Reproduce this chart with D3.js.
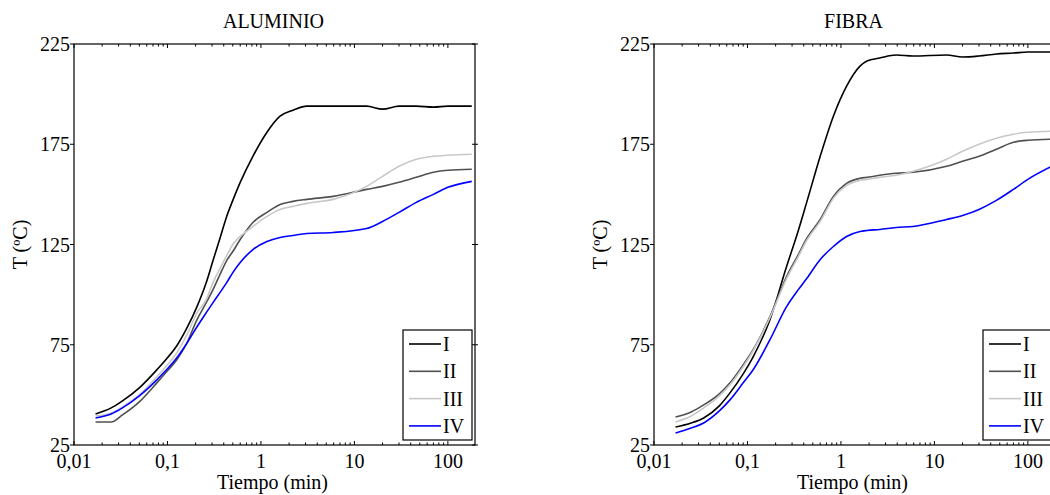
<!DOCTYPE html>
<html>
<head>
<meta charset="utf-8">
<script src="https://cdn.jsdelivr.net/npm/d3@7"></script>
<style>
  body { margin: 0; background: #fff; }
  svg { display: block; }
  text { font-family: "Liberation Serif", "Times New Roman", serif; fill: #000; }
</style>
</head>
<body>
<div id="chart"></div>
<script>
// series names + colours
const seriesNames = ["I", "II", "III", "IV"];
const seriesColors = ["#000000", "#505050", "#c8c8c8", "#0000ff"];

const xTickValues = [0.01, 0.1, 1, 10, 100];
const xTickLabels = ["0,01", "0,1", "1", "10", "100"];
const yTickValues = [25, 75, 125, 175, 225];

// ALUMINIO (time in min, temperature in ºC)
const timeAlu = [0.017, 0.025, 0.033, 0.05, 0.077, 0.1, 0.126, 0.16, 0.207, 0.26, 0.307, 0.364, 0.43, 0.5, 0.6, 0.82, 1.16, 1.6, 2.2, 3.1, 5.9, 13.5, 20, 30, 46, 70, 100, 180];
const aluI   = [40.5, 43.5, 47, 53.5, 62.5, 68.5, 74.5, 83, 94, 106, 117, 128, 139, 147, 156, 169, 181, 189, 192, 194, 194, 194, 192.5, 194, 194, 193.5, 194, 194];
const aluII  = [36.5, 36.5, 40, 46.5, 56, 62, 67.5, 75.5, 87.5, 96, 102.5, 110, 117, 121.5, 127.5, 136, 141, 145, 146.5, 147.5, 149, 152.5, 154, 156, 158.5, 161, 162, 162.5];
const aluIII = [39.5, 41, 44, 50, 59, 65, 71, 79.5, 91, 97.5, 106, 113, 119.5, 125, 129, 134, 139, 142.5, 144, 145.5, 147.5, 154, 159, 164, 167.5, 169, 169.5, 170];
const aluIV  = [38.5, 40.5, 43.5, 49.5, 57.5, 63, 68.5, 75.5, 84, 91, 96, 101, 106, 111, 116, 122.5, 126.5, 128.5, 129.5, 130.5, 131, 133, 136.5, 141, 146, 150, 153.5, 156.5];

// FIBRA
const timeFib = [0.017, 0.025, 0.034, 0.05, 0.065, 0.09, 0.115, 0.174, 0.262, 0.35, 0.43, 0.6, 0.83, 1.15, 1.6, 1.9, 2.6, 3.9, 5.9, 13.5, 20, 30, 46, 70, 100, 180];
const fibI   = [34, 36, 38.5, 44.5, 51, 60.5, 69, 87.5, 114, 132, 146, 169, 189, 204, 214, 216.5, 218, 219.5, 219, 219.5, 218.5, 219, 220, 220.5, 221, 221];
const fibII  = [39, 41.5, 45, 50.5, 56, 65, 72.5, 89, 109, 120, 128, 137.5, 149, 155.5, 158, 158.5, 159.5, 160.5, 161, 164, 166.5, 169, 172.5, 176, 177, 177.5];
const fibIII = [36.5, 39.5, 43.5, 49.5, 55, 64, 72, 88.5, 108, 119, 127, 136.5, 148, 154.5, 157, 157.5, 158.5, 159.5, 161.5, 167.5, 171.5, 175, 178, 180, 181, 181.5];
const fibIV  = [31, 33.5, 36, 42, 47.5, 56, 62.5, 77.5, 94, 102.5, 108, 117.5, 124, 129, 131.5, 132, 132.5, 133.5, 134, 137.5, 139.5, 142.5, 147, 152.5, 157.5, 164];

const width = 1050, height = 495;

let svg = d3.select("#chart").append("svg")
    .attr("width", width)
    .attr("height", height);

function drawPanel(left, title, time, series) {
    let top = 44, bottom = 445, right = left + 401;

    let x = d3.scaleLog().domain([0.01, 195]).range([left, right]);
    let y = d3.scaleLinear().domain([25, 225]).range([bottom, top]);

    let g = svg.append("g");

    // minor/major ticks on top & bottom, pointing in
    let minors = [];
    for (let d = 0.01; d < 195; d *= 10) {
        for (let k = 1; k < 10; k++) {
            if (d * k <= 195) minors.push(d * k);
        }
    }
    minors.forEach(v => {
        let major = Math.abs(Math.log10(v) - Math.round(Math.log10(v))) < 1e-9;
        let len = major ? 4 : 2.5;
        g.append("line").attr("x1", x(v)).attr("x2", x(v))
            .attr("y1", bottom).attr("y2", bottom - len)
            .attr("stroke", "#000").attr("stroke-width", 1);
        g.append("line").attr("x1", x(v)).attr("x2", x(v))
            .attr("y1", top).attr("y2", top + len)
            .attr("stroke", "#000").attr("stroke-width", 1);
    });

    // y ticks
    yTickValues.forEach(v => {
        g.append("line").attr("x1", left - 4).attr("x2", left)
            .attr("y1", y(v)).attr("y2", y(v))
            .attr("stroke", "#000");
        g.append("line").attr("x1", right - 3).attr("x2", right + 3)
            .attr("y1", y(v)).attr("y2", y(v))
            .attr("stroke", "#000");
        g.append("text")
            .attr("x", left - 4)
            .attr("y", y(v) + 7)
            .attr("text-anchor", "end")
            .style("font-size", "20px")
            .text(v);
    });

    xTickValues.forEach((v, i) => {
        g.append("text")
            .attr("x", x(v))
            .attr("y", 468)
            .attr("text-anchor", "middle")
            .style("font-size", "20px")
            .text(xTickLabels[i]);
    });

    // curves
    let line = d3.line()
        .x(d => x(d[0]))
        .y(d => y(d[1]))
        .curve(d3.curveMonotoneX);

    series.forEach((vals, i) => {
        g.append("path")
            .datum(time.map((t, j) => [t, vals[j]]))
            .attr("d", line)
            .attr("fill", "none")
            .attr("stroke", seriesColors[i])
            .attr("stroke-width", 1.6)
            .attr("stroke-linejoin", "round");
    });

    // box
    g.append("rect")
        .attr("x", left).attr("y", top)
        .attr("width", right - left).attr("height", bottom - top)
        .attr("fill", "none").attr("stroke", "#000").attr("stroke-width", 1.2);

    // legend
    let lg = g.append("g");
    lg.append("rect")
        .attr("x", right - 72).attr("y", 330)
        .attr("width", 69).attr("height", 110)
        .attr("fill", "#fff").attr("stroke", "#000").attr("stroke-width", 1.2);
    seriesNames.forEach((name, i) => {
        let ly = 344 + i * 27.3;
        lg.append("line")
            .attr("x1", right - 66).attr("x2", right - 34)
            .attr("y1", ly).attr("y2", ly)
            .attr("stroke", seriesColors[i]).attr("stroke-width", 1.6);
        lg.append("text")
            .attr("x", right - 32).attr("y", ly + 7)
            .style("font-size", "20px")
            .text(name);
    });

    // labels
    g.append("text")
        .attr("x", (left + right) / 2 - 1)
        .attr("y", 28)
        .attr("text-anchor", "middle")
        .style("font-size", "20px")
        .text(title);

    g.append("text")
        .attr("x", (left + right) / 2 - 2)
        .attr("y", 489)
        .attr("text-anchor", "middle")
        .style("font-size", "20px")
        .text("Tiempo (min)");

    g.append("text")
        .attr("transform", "translate(" + (left - 47) + "," + (top + bottom) / 2 + ") rotate(-90)")
        .attr("text-anchor", "middle")
        .style("font-size", "20px")
        .text("T (ºC)");
}

drawPanel(74, "ALUMINIO", timeAlu, [aluI, aluII, aluIII, aluIV]);
drawPanel(654, "FIBRA", timeFib, [fibI, fibII, fibIII, fibIV]);
</script>
</body>
</html>
